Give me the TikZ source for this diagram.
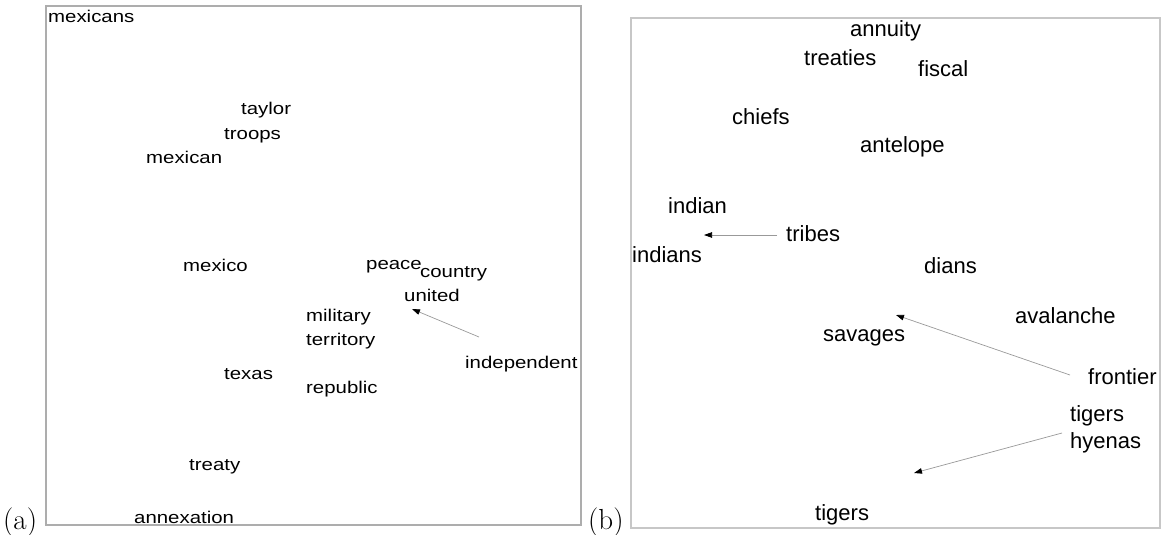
\documentclass[tikz,border=0pt]{standalone}
\usepackage{fontspec}
\newfontfamily\wordsfont[FakeStretch=1.2]{Liberation Sans}
\newfontfamily\wordsbfont{Liberation Sans}
\usetikzlibrary{arrows.meta}

\begin{document}
\begin{tikzpicture}[x=1pt,y=-1pt,
    wa/.style={anchor=base west,inner sep=0pt,font=\wordsfont\fontsize{17}{17}\selectfont},
    wb/.style={anchor=base west,inner sep=0pt,font=\wordsbfont\fontsize{22}{22}\selectfont},
    panel/.style={line width=2.5pt},
    moveline/.style={draw=gray!80,line width=0.7pt,-{Triangle[black,length=8pt,width=5.5pt]}},
    tag/.style={anchor=base west,inner sep=0pt,font=\fontsize{29}{29}\selectfont}]
    \useasboundingbox (0,0) rectangle (1161,535);

    % panel (a)
    \draw[panel,black!32](46,6) rectangle (581,525);
    \node[tag] (taga) at (3,529) {(a)};
    \node[wa] (mexicans) at (48,23) {mexicans};
    \node[wa] (taylor) at (241,114) {taylor};
    \node[wa] (troops) at (224,139) {troops};
    \node[wa] (mexican) at (146,163) {mexican};
    \node[wa] (mexico) at (183,271) {mexico};
    \node[wa] (peace) at (366,269) {peace};
    \node[wa] (country) at (420,277) {country};
    \node[wa] (united) at (404,301) {united};
    \node[wa] (military) at (306,321) {military};
    \node[wa] (territory) at (306,345) {territory};
    \node[wa] (independent) at (465,368) {independent};
    \node[wa] (texas) at (224,379) {texas};
    \node[wa] (republic) at (306,393) {republic};
    \node[wa] (treaty) at (189,470) {treaty};
    \node[wa] (annexation) at (134,523) {annexation};
    \coordinate (indfrom) at (479,337);
    \coordinate (indto) at (412,309);
    \draw[moveline](indfrom)--(indto);

    % panel (b)
    \draw[panel,black!22](631,18) rectangle (1160,528);
    \node[tag] (tagb) at (588,529) {(b)};
    \node[wb] (annuity) at (850,37) {annuity};
    \node[wb] (treaties) at (804,66) {treaties};
    \node[wb] (fiscal) at (918,76) {fiscal};
    \node[wb] (chiefs) at (732,124) {chiefs};
    \node[wb] (antelope) at (860,152) {antelope};
    \node[wb] (indian) at (668,213) {indian};
    \node[wb] (tribes) at (786,241) {tribes};
    \node[wb] (indians) at (632,262) {indians};
    \node[wb] (dians) at (924,273) {dians};
    \node[wb] (avalanche) at (1015,323) {avalanche};
    \node[wb] (savages) at (823,341) {savages};
    \node[wb] (frontier) at (1088,384) {frontier};
    \node[wb] (tigersa) at (1070,421) {tigers};
    \node[wb] (hyenas) at (1070,448) {hyenas};
    \node[wb] (tigersb) at (815,520) {tigers};
    \coordinate (tribfrom) at (777,235);
    \coordinate (tribto) at (704,235);
    \coordinate (frontfrom) at (1070,375);
    \coordinate (frontto) at (896,315);
    \coordinate (tigfrom) at (1062,433);
    \coordinate (tigto) at (914,473);
    \draw[moveline](tribfrom)--(tribto);
    \draw[moveline](frontfrom)--(frontto);
    \draw[moveline](tigfrom)--(tigto);

\end{tikzpicture}
\end{document}
